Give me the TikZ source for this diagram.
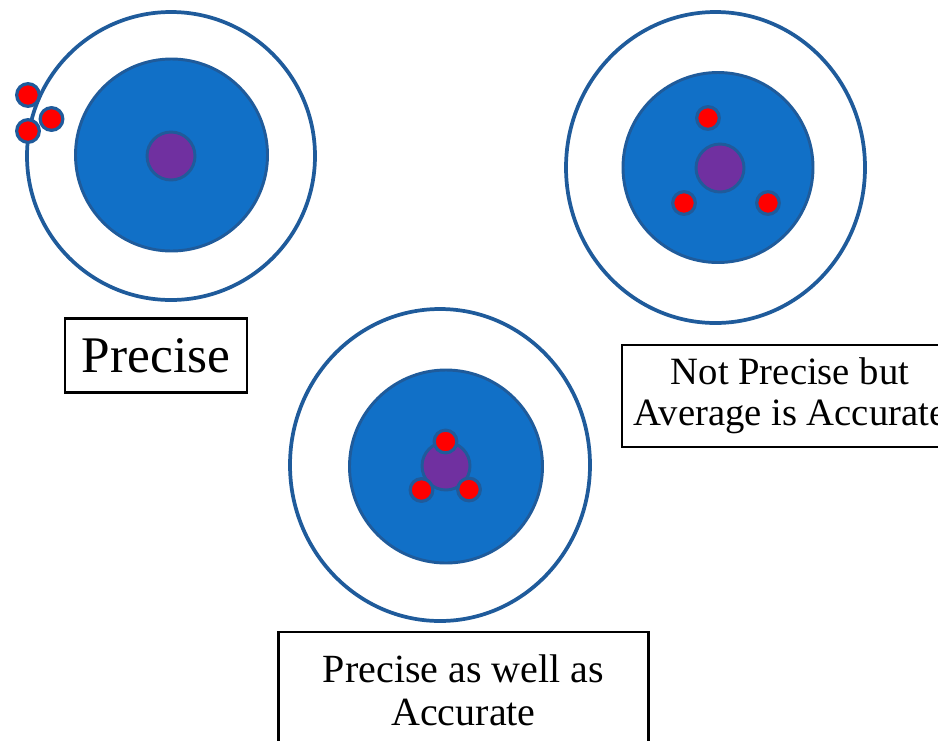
\documentclass[tikz,border=0pt]{standalone}
\usepackage{fontspec}
\setmainfont{Liberation Serif}
\definecolor{ringblue}{RGB}{31,91,155}
\definecolor{fillblue}{RGB}{17,112,199}
\definecolor{bullpurple}{RGB}{112,48,160}
\begin{document}
\begin{tikzpicture}[x=0.75pt,y=-0.75pt,
  outerring/.style={draw=ringblue,line width=2.8pt,fill=white},
  innerdisk/.style={draw=ringblue,line width=2.2pt,fill=fillblue},
  bull/.style={draw=ringblue,line width=2.2pt,fill=bullpurple},
  dot/.style={circle,draw=ringblue,fill=red,line width=2.4pt,minimum size=17pt,inner sep=0pt},
  labelbox/.style={draw=black,line width=2.2pt,fill=white,align=center,inner sep=0pt}]
\useasboundingbox (0,0) rectangle (938,740);
\clip (0,0) rectangle (938,740);
% target 1
\coordinate (t1) at (171,156);
\draw[outerring] (t1) circle [radius=144];
\draw[innerdisk] (171.5,155) circle [radius=96];
\draw[bull] (171,156) circle [radius=24];
\node[dot] (a1) at (28,95) {};
\node[dot] (a2) at (51.5,119) {};
\node[dot] (a3) at (28,131) {};
% target 2
\coordinate (t2) at (715.5,167.5);
\draw[outerring] (t2) ellipse [x radius=149.5,y radius=155.5];
\draw[innerdisk] (718,167.5) circle [radius=95];
\draw[bull] (720,168) circle [radius=24];
\node[dot] (b1) at (708,118) {};
\node[dot] (b2) at (684,203) {};
\node[dot] (b3) at (768,203) {};
% target 3
\coordinate (t3) at (440,465);
\draw[outerring] (t3) ellipse [x radius=150,y radius=156];
\draw[innerdisk] (446,466.5) circle [radius=96.5];
\draw[bull] (446,466) circle [radius=24];
\node[dot] (c1) at (445.5,441.5) {};
\node[dot] (c2) at (421.5,490) {};
\node[dot] (c3) at (469,489.5) {};
% labels
\node[labelbox,minimum width=136.5pt,minimum height=56pt,font=\fontsize{38.5}{41}\selectfont] (l1) at (156,355.5) {Precise};
\node[labelbox,minimum width=252pt,minimum height=76.5pt,font=\fontsize{29}{30.5}\selectfont] (l2) at (790,396) {Not Precise but\\Average is Accurate};
\node[labelbox,minimum width=278pt,minimum height=87pt,font=\fontsize{30}{32.5}\selectfont] (l3) at (463.5,690) {Precise as well as\\Accurate};
\end{tikzpicture}
\end{document}
